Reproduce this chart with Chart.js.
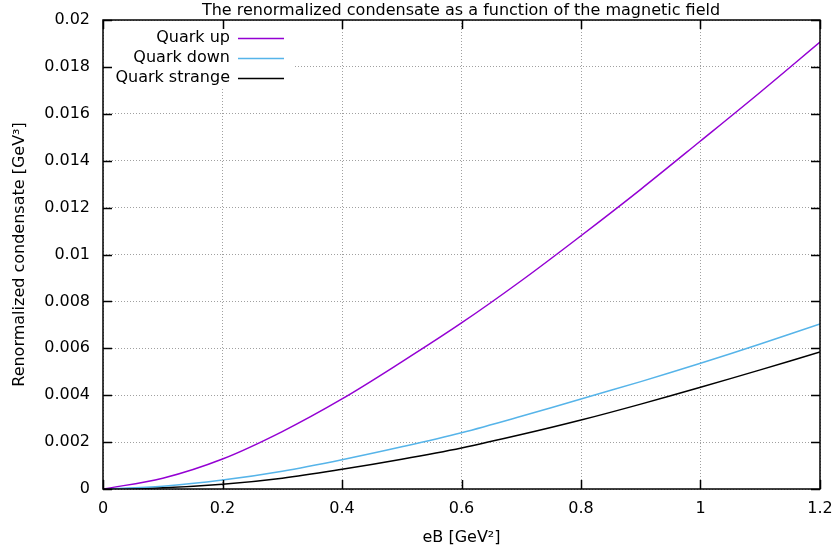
<!DOCTYPE html>
<html>
<head>
<meta charset="utf-8">
<script src="https://cdn.jsdelivr.net/npm/chart.js@4/dist/chart.umd.min.js"></script>
<style>
  html, body { margin: 0; padding: 0; background: #fff; }
  #wrap { width: 836px; height: 549px; }
</style>
</head>
<body>
<div id="wrap"><canvas id="condensateChart"></canvas></div>
<script>
// eB values [GeV^2]
const eB = [0, 0.1, 0.2, 0.3, 0.4, 0.5, 0.6, 0.7, 0.8, 0.9, 1.0, 1.1, 1.2];

// renormalized condensate [GeV^3]
const quarkUp      = [0, 0.00046, 0.00128, 0.00245, 0.00384, 0.00542, 0.00708, 0.00888, 0.0108, 0.01278, 0.01484, 0.01692, 0.01906];
const quarkDown    = [0, 0.00012, 0.00038, 0.00076, 0.00125, 0.0018, 0.0024, 0.0031, 0.00384, 0.00458, 0.00536, 0.00618, 0.00704];
const quarkStrange = [0, 0.00005, 0.0002, 0.00046, 0.00084, 0.00127, 0.00175, 0.00232, 0.00294, 0.00362, 0.00434, 0.00508, 0.00584];

const seriesNames  = ['Quark up', 'Quark down', 'Quark strange'];
const seriesColors = ['#9400d3', '#56b4e9', '#000000'];

const FONT = 'DejaVu Sans';
const SIZE = 16;

function toPoints(ys) {
    return eB.map((x, i) => ({ x: x, y: ys[i] }));
}

/**
 * gnuplot-like frame: title, border, inward ticks, key box
 */
const gnuplotFrame = {
    id: 'gnuplotFrame',
    beforeDatasetsDraw(chart) {
        const ctx = chart.ctx;
        const a = chart.chartArea;
        // opaque key box hides the grid behind it
        ctx.save();
        ctx.fillStyle = '#fff';
        ctx.fillRect(a.left + 1, a.top + 1, 190, 67);
        ctx.restore();
    },
    afterDraw(chart) {
        const ctx = chart.ctx;
        const a = chart.chartArea;
        const xs = chart.scales.x;
        const ys = chart.scales.y;
        ctx.save();

        // title
        ctx.fillStyle = '#000';
        ctx.font = SIZE + 'px ' + FONT;
        ctx.textAlign = 'center';
        ctx.textBaseline = 'middle';
        ctx.fillText('The renormalized condensate as a function of the magnetic field', 461, 11);

        // ticks, inward on all sides
        ctx.strokeStyle = '#000';
        ctx.lineWidth = 1.5;
        const len = 9;
        ctx.beginPath();
        xs.ticks.forEach(t => {
            const px = Math.round(xs.getPixelForValue(t.value)) + 0.5;
            ctx.moveTo(px, a.bottom); ctx.lineTo(px, a.bottom - len);
            ctx.moveTo(px, a.top); ctx.lineTo(px, a.top + len);
        });
        ys.ticks.forEach(t => {
            const py = Math.round(ys.getPixelForValue(t.value)) + 0.5;
            ctx.moveTo(a.left, py); ctx.lineTo(a.left + len, py);
            ctx.moveTo(a.right, py); ctx.lineTo(a.right - len, py);
        });
        ctx.stroke();

        // border
        ctx.strokeRect(a.left, a.top, a.right - a.left, a.bottom - a.top);

        // key
        ctx.textAlign = 'right';
        chart.data.datasets.forEach((ds, i) => {
            const y = a.top + 18 + i * 20;
            ctx.fillStyle = '#000';
            ctx.fillText(ds.label, a.left + 127, y);
            ctx.strokeStyle = ds.borderColor;
            ctx.lineWidth = 1.5;
            ctx.beginPath();
            ctx.moveTo(a.left + 135, y + 0.5);
            ctx.lineTo(a.left + 181, y + 0.5);
            ctx.stroke();
        });
        ctx.restore();
    }
};

const datasets = [quarkUp, quarkDown, quarkStrange].map((ys, i) => ({
    label: seriesNames[i],
    data: toPoints(ys),
    borderColor: seriesColors[i],
    backgroundColor: seriesColors[i],
    borderWidth: 1.5,
    pointRadius: 0,
    tension: 0.35,
    fill: false
}));

new Chart(document.getElementById('condensateChart'), {
    type: 'line',
    data: { datasets: datasets },
    options: {
        responsive: true,
        maintainAspectRatio: false,
        animation: false,
        layout: { padding: { top: 20, right: 16, left: 0, bottom: 0 } },
        plugins: {
            legend: { display: false },
            title: { display: false },
            tooltip: { enabled: false }
        },
        scales: {
            x: {
                type: 'linear',
                min: 0,
                max: 1.2,
                ticks: {
                    stepSize: 0.2,
                    color: '#000',
                    padding: 10,
                    font: { family: FONT, size: SIZE },
                    maxRotation: 0,
                    callback: v => String(Math.round(v * 10) / 10)
                },
                grid: {
                    color: '#a0a0a0',
                    drawTicks: false,
                    lineWidth: 1
                },
                border: { display: false, dash: [1, 2] },
                title: {
                    display: true,
                    text: 'eB [GeV²]',
                    color: '#000',
                    font: { family: FONT, size: SIZE },
                    padding: { top: 8, bottom: 2 }
                },
                afterFit: scale => {
                    scale.height = 60;
                    scale.paddingLeft = 0;
                    scale.paddingRight = 0;
                }
            },
            y: {
                type: 'linear',
                min: 0,
                max: 0.02,
                ticks: {
                    stepSize: 0.002,
                    color: '#000',
                    padding: 13,
                    font: { family: FONT, size: SIZE },
                    callback: v => String(Math.round(v * 1000) / 1000)
                },
                grid: {
                    color: '#a0a0a0',
                    drawTicks: false,
                    lineWidth: 1
                },
                border: { display: false, dash: [1, 2] },
                title: {
                    display: true,
                    text: 'Renormalized condensate [GeV³]',
                    color: '#000',
                    font: { family: FONT, size: SIZE },
                    padding: { top: 10, bottom: 4 }
                },
                afterFit: scale => {
                    scale.width = 103;
                    scale.paddingTop = 0;
                    scale.paddingBottom = 0;
                }
            }
        }
    },
    plugins: [gnuplotFrame]
});
</script>
</body>
</html>
